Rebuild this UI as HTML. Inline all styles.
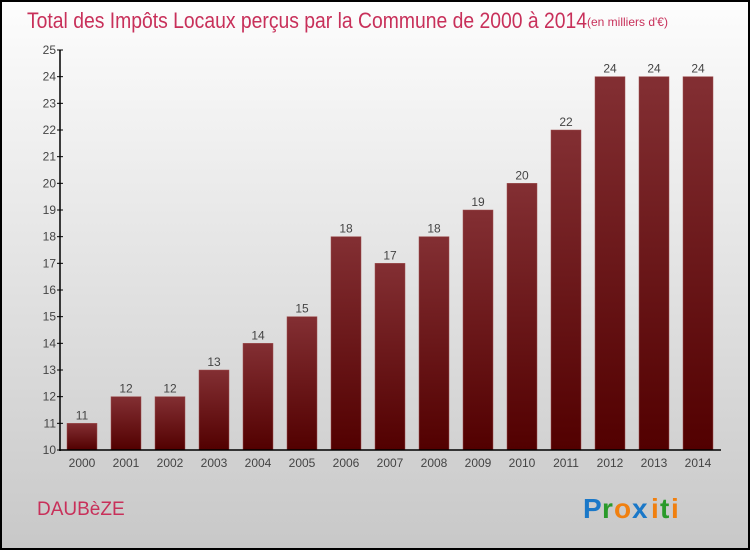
<!DOCTYPE html>
<html><head><meta charset="utf-8"><style>
html,body{margin:0;padding:0}
body{width:750px;height:550px;overflow:hidden;font-family:"Liberation Sans",sans-serif}
</style></head><body>
<svg id="chart" width="750" height="550" xmlns="http://www.w3.org/2000/svg">
<defs>
<linearGradient id="bg" x1="0" y1="0" x2="0" y2="1"><stop offset="0" stop-color="#fdfdfd"/><stop offset="1" stop-color="#c8c8c8"/></linearGradient>
<linearGradient id="bar" x1="0" y1="0" x2="0" y2="1"><stop offset="0" stop-color="#832f33"/><stop offset="1" stop-color="#520000"/></linearGradient>
</defs>
<rect x="1" y="1" width="748" height="548" fill="url(#bg)" stroke="#000" stroke-width="2"/>
<text x="27" y="28" font-size="22" fill="#c8305a" textLength="560" lengthAdjust="spacingAndGlyphs">Total des Impôts Locaux perçus par la Commune de 2000 à 2014</text>
<text x="587" y="26" font-size="12" fill="#c8305a">(en milliers d'€)</text>
<g id="plot"></g>
<text x="37" y="515" font-size="19" fill="#c8305a">DAUBèZE</text>
<g font-size="28" font-weight="bold" font-family="Liberation Sans, sans-serif">
<text x="583" y="518" fill="#1a78c8">P</text><text x="602" y="518" fill="#2a9a2a">r</text><text x="614" y="518" fill="#f08010">o</text><text x="632" y="518" fill="#1a78c8">x</text><text x="651" y="518" fill="#f08010">i</text><text x="660" y="518" fill="#2a9a2a">t</text><text x="671" y="518" fill="#f08010">i</text>
</g>
</svg>
<script>
const years=["2000","2001","2002","2003","2004","2005","2006","2007","2008","2009","2010","2011","2012","2013","2014"];
const values=[11,12,12,13,14,15,18,17,18,19,20,22,24,24,24];
const yTicks=[10,11,12,13,14,15,16,17,18,19,20,21,22,23,24,25];
const NS="http://www.w3.org/2000/svg";
const g=document.getElementById('plot');
const y=v=>450-(v-10)*(400/15);
const x=i=>82+i*44;
function mk(t,a){const e=document.createElementNS(NS,t);for(const k in a)e.setAttribute(k,a[k]);g.appendChild(e);return e;}
yTicks.forEach(v=>{
 const tk=mk('line',{x1:57,x2:63,y1:y(v),y2:y(v),stroke:'#000'});
 
 
 const t=mk('text',{x:56,y:y(v)+4,'text-anchor':'end','font-size':12,fill:'#444'});
 t.textContent=v;
 
 
});
values.forEach((v,i)=>{
 const r=mk('rect',{x:x(i)-15,y:y(v),width:30,height:450-y(v),fill:'url(#bar)',stroke:'#a05050','stroke-width':0.5});
 
 
 const t=mk('text',{x:x(i),y:y(v)-4,'text-anchor':'middle','font-size':12,fill:'#444'});
 t.textContent=v;
 
 
 const xl=mk('text',{x:x(i),y:467,'text-anchor':'middle','font-size':12,fill:'#444'});
 xl.textContent=years[i];
 
 
});
const ya=mk('line',{x1:60,x2:60,y1:y(25),y2:451,stroke:'#000','stroke-width':1.5});


const xa=mk('line',{x1:59,x2:721,y1:450,y2:450,stroke:'#000','stroke-width':1.5});


</script>
</body></html>
